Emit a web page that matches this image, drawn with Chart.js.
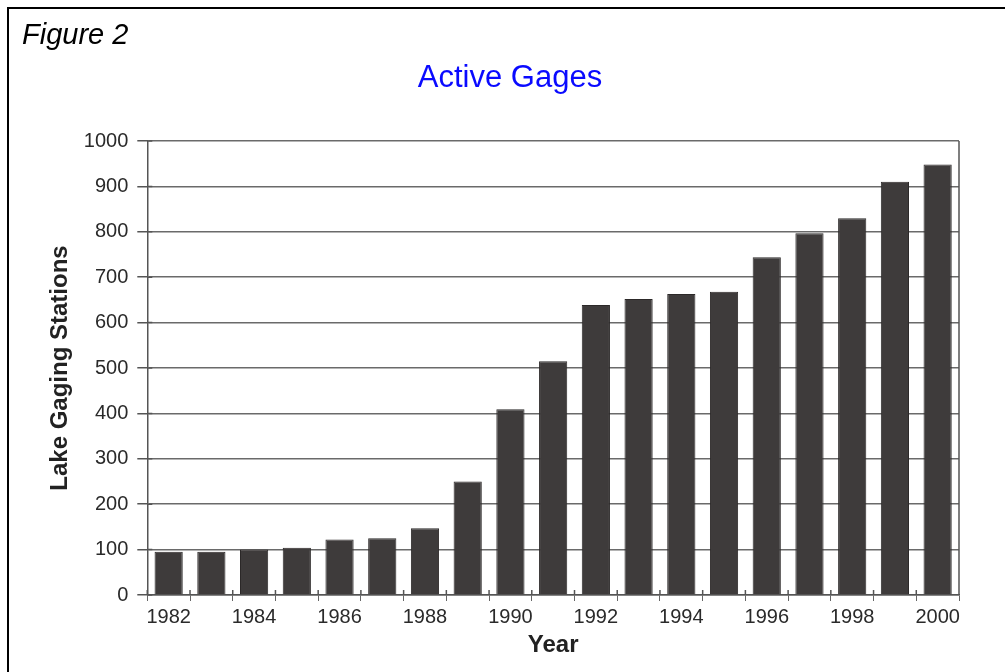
<!DOCTYPE html>
<html>
<head>
<meta charset="utf-8">
<script src="https://cdn.jsdelivr.net/npm/chart.js@4/dist/chart.umd.min.js"></script>
<style>
  html, body { margin: 0; padding: 0; background: #fff; }
  #wrap { width: 1005px; height: 672px; position: relative; }
</style>
</head>
<body>
<div id="wrap"><canvas id="gagesChart" width="1005" height="672"></canvas></div>
<script>
const years = ['1982', '1983', '1984', '1985', '1986', '1987', '1988', '1989', '1990', '1991',
  '1992', '1993', '1994', '1995', '1996', '1997', '1998', '1999', '2000'];
const stations = [95, 95, 100, 104, 122, 125, 147, 250, 409, 515,
  639, 652, 663, 668, 744, 797, 830, 910, 948];
const yTickLabels = [0, 100, 200, 300, 400, 500, 600, 700, 800, 900, 1000];

const FONT = 'Arial, "Liberation Sans", sans-serif';

// page frame, figure caption and blue heading drawn around the chart
const figureFrame = {
  id: 'figureFrame',
  beforeDraw(chart) {
    const c = chart.ctx;
    c.save();
    c.fillStyle = '#fff';
    c.fillRect(0, 0, chart.width, chart.height);
    c.strokeStyle = '#000';
    c.lineWidth = 2;
    c.beginPath();
    c.moveTo(8, chart.height);
    c.lineTo(8, 8);
    c.lineTo(chart.width, 8);
    c.stroke();
    c.fillStyle = '#000';
    c.font = 'italic 29px ' + FONT;
    c.textBaseline = 'alphabetic';
    c.fillText('Figure 2', 22, 44);
    c.fillStyle = '#0a0aff';
    c.font = '31px ' + FONT;
    c.textAlign = 'center';
    c.fillText('Active Gages', 510, 87);
    c.restore();
  },
  afterDraw(chart) {
    const c = chart.ctx;
    const area = chart.chartArea;
    const x = chart.scales.x;
    const y = chart.scales.y;
    c.save();
    c.strokeStyle = '#555';
    c.lineWidth = 1.5;
    c.beginPath();
    c.moveTo(area.right, area.top);
    c.lineTo(area.right, area.bottom);
    // tick marks poke a little inside the plot, like the original
    y.ticks.forEach(t => {
      const py = y.getPixelForValue(t.value);
      c.moveTo(area.left, py);
      c.lineTo(area.left + 5, py);
    });
    for (let i = 0; i <= years.length; i++) {
      const px = x.getPixelForTick(Math.min(i, years.length - 1)) + (i === years.length ? 1 : -1) * (x.width / years.length) / 2;
      c.moveTo(px, area.bottom);
      c.lineTo(px, area.bottom - 5);
    }
    c.stroke();
    c.restore();
  }
};

new Chart(document.getElementById('gagesChart'), {
  type: 'bar',
  data: {
    labels: years,
    datasets: [{
      label: 'Lake Gaging Stations',
      data: stations,
      backgroundColor: '#3e3b3b',
      borderColor: '#2c2929',
      borderWidth: 1,
      barPercentage: 0.66,
      categoryPercentage: 1
    }]
  },
  options: {
    responsive: false,
    animation: false,
    layout: { padding: { left: 46, right: 46, top: 141, bottom: 15 } },
    plugins: {
      legend: { display: false },
      tooltip: { enabled: false },
      title: { display: false }
    },
    scales: {
      x: {
        grid: {
          offset: true,
          drawOnChartArea: false,
          tickLength: 6,
          color: '#666',
          lineWidth: 1
        },
        border: { display: true, color: '#555', width: 1.5 },
        ticks: {
          autoSkip: false,
          maxRotation: 0,
          padding: 6,
          color: '#2a2a2a',
          font: { family: FONT, size: 20, lineHeight: 1 },
          callback: (v, i) => (i % 2 === 0 ? years[i] : '')
        },
        title: {
          display: true,
          text: 'Year',
          color: '#222',
          font: { family: FONT, size: 24, weight: 'bold', lineHeight: 1 },
          padding: { top: 0, bottom: 0 }
        }
      },
      y: {
        min: 0,
        max: 1000,
        ticks: {
          stepSize: 50,
          padding: 9,
          color: '#2a2a2a',
          font: { family: FONT, size: 20 },
          callback: v => (yTickLabels.includes(v) ? v : '')
        },
        grid: {
          tickLength: 10,
          color: ctx => (ctx.tick && ctx.tick.value % 100 === 0 ? '#6a6a6a' : 'rgba(0,0,0,0)'),
          tickColor: '#555',
          lineWidth: 1.5
        },
        border: { display: true, color: '#555', width: 1.5 },
        title: {
          display: true,
          text: 'Lake Gaging Stations',
          color: '#222',
          font: { family: FONT, size: 24, weight: 'bold' },
          padding: { top: 0, bottom: 0 }
        }
      }
    }
  },
  plugins: [figureFrame]
});
</script>
</body>
</html>
